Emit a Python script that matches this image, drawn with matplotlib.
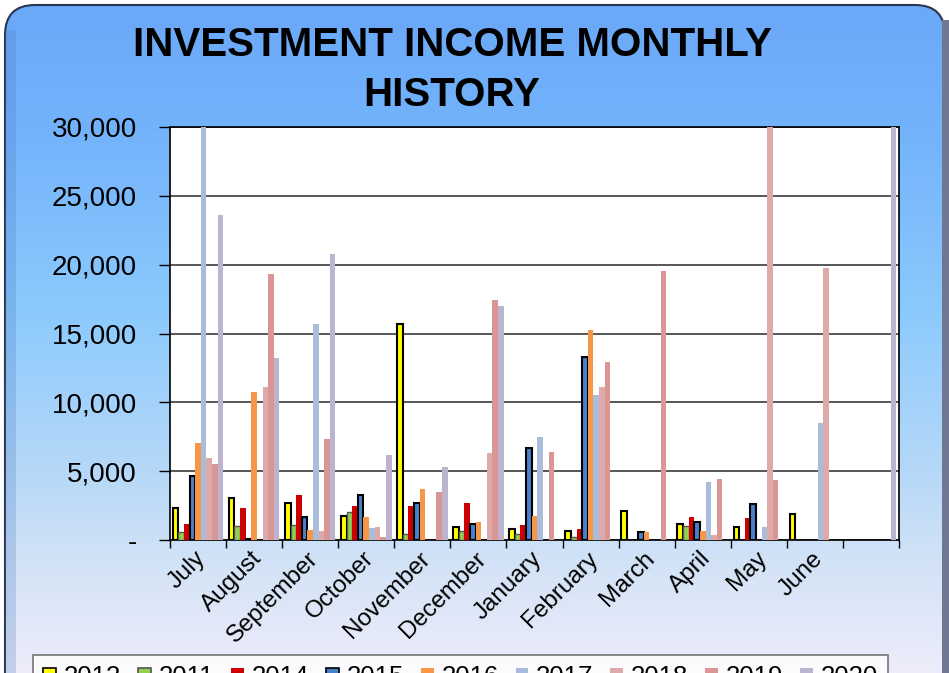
import numpy as np
import matplotlib
matplotlib.use("Agg")
import matplotlib.pyplot as plt
from matplotlib.patches import FancyBboxPatch, Patch, Rectangle
from matplotlib.colors import LinearSegmentedColormap
from matplotlib.ticker import FuncFormatter

plt.rcParams['font.family'] = ['Liberation Sans', 'DejaVu Sans']

# data (values above 30,000 are clipped in the original)
months = ["July", "August", "September", "October", "November", "December",
          "January", "February", "March", "April", "May", "June", ""]
years = ["2012", "2011", "2014", "2015", "2016", "2017", "2018", "2019", "2020"]

y2012 = [2300, 3050, 2710, 1770, 15660, 920, 800, 630, 2100, 1140, 970, 1860, 0]
y2011 = [600, 1040, 1065, 2010, 440, 650, 440, 240, 0, 1040, 0, 0, 0]
y2014 = [1160, 2300, 3270, 2490, 2490, 2710, 1090, 820, -100, 1690, 1620, 0, 0]
y2015 = [4670, 70, 1690, 3270, 2660, 1160, 6680, 13290, 580, 1330, 2590, 0, 0]
y2016 = [7020, 10770, 730, 1690, 3730, 1330, 1770, 15270, 600, 680, 0, 0, 0]
y2017 = [33000, 0, 15660, 870, 0, 30, 7500, 10550, 0, 4240, 970, 8520, 0]
y2018 = [5950, 11110, 680, 940, -60, 6340, 0, 11130, 0, 390, 33000, 19770, 0]
y2019 = [5540, 19340, 7360, 190, 3480, 17400, 6360, 12950, 19530, 4450, 4380, 0, 0]
y2020 = [23640, 13240, 20810, 6170, 5280, 17010, 0, 0, 0, 0, 0, 0, 33000]

series = [y2012, y2011, y2014, y2015, y2016, y2017, y2018, y2019, y2020]
colors = ["#FFFF00", "#92D050", "#CC0000", "#4A7FCC", "#F79646",
          "#A9BCDB", "#DDA9A9", "#D99694", "#BCB3CE"]
edges = ["black", "#555555", "none", "black", "none", "none", "none", "none", "none"]
lws = [1.5, 1.0, 0, 1.5, 0, 0, 0, 0, 0]

W, H = 949, 673
fig = plt.figure(figsize=(W / 100, H / 100), dpi=100, facecolor="white")

# background panel with vertical gradient
bg = fig.add_axes([0, 0, 1, 1], zorder=-10)
bg.set_xlim(0, W)
bg.set_ylim(H, 0)
bg.axis("off")
cmap = LinearSegmentedColormap.from_list("bgc", [
    (0.0, "#6aa8f8"), (0.2, "#74b4fb"), (0.45, "#8ccafd"),
    (0.68, "#b6d8f8"), (0.8, "#d0e2f6"), (1.0, "#f3eefb")])
grad = np.linspace(0, 1, 256).reshape(-1, 1)
im = bg.imshow(grad, cmap=cmap, extent=[5, 945, H + 20, 5], aspect="auto")
panel = FancyBboxPatch((5, 5), 940, H + 40, boxstyle="round,pad=0,rounding_size=30",
                       fc="none", ec="#2a3550", lw=1.5)
bg.add_patch(panel)
im.set_clip_path(panel)
strip = Rectangle((5, 30), 11, H, fc="#4a78c0", alpha=0.25, lw=0)
bg.add_patch(strip)
strip.set_clip_path(panel)
bg.add_patch(Rectangle((942, 20), 7, H, fc="#6f7890", lw=0))

fig.text(452 / W, 1 - 70 / H, "INVESTMENT INCOME MONTHLY\nHISTORY",
         ha="center", va="center", fontsize=29, fontweight="bold",
         linespacing=1.37)

ax = fig.add_axes([170 / W, 1 - 540 / H, 729 / W, 413 / H])
ax.set_facecolor("white")
x = np.arange(len(months))
w = 0.1
for i, (vals, c, ec, lw) in enumerate(zip(series, colors, edges, lws)):
    h = np.array([np.nan if v == 0 else v for v in vals], dtype=float)
    ax.bar(x + (i - 4) * w, h, width=w, color=c, edgecolor=ec, linewidth=lw,
           zorder=3)

ax.set_xlim(-0.5, len(months) - 0.5)
ax.set_ylim(0, 30000)
ax.set_yticks(np.arange(0, 30001, 5000))
ax.yaxis.set_major_formatter(FuncFormatter(lambda v, p: "-" if v == 0 else f"{v:,.0f}"))
ax.tick_params(axis="y", labelsize=20, length=8, width=1, pad=16, direction="out")
ax.grid(axis="y", color="#4a4a4a", lw=1.3, zorder=1)

ax.set_xticks(np.arange(-0.5, len(months), 1))
ax.set_xticklabels([])
ax.set_xticks(x + 0.08, minor=True)
ax.set_xticklabels(months, minor=True, rotation=45, ha="right", va="center",
                   rotation_mode="anchor", fontsize=17.5)
ax.tick_params(axis="x", which="major", length=6, width=1, direction="out")
ax.tick_params(axis="x", which="minor", length=0, pad=11)
for s in ax.spines.values():
    s.set_color("black")
    s.set_linewidth(1.2)

handles = [Patch(facecolor=c, edgecolor=("black" if ec == "none" else ec) if i in (0, 1, 3) else c,
                 linewidth=1.2 if i in (0, 1, 3) else 0, label=y)
           for i, (c, ec, y) in enumerate(zip(colors, edges, years))]
leg = fig.legend(handles=handles, loc="upper left", bbox_to_anchor=(33 / W, 1 - 655 / H),
                 ncol=9, fontsize=18.5, frameon=True, fancybox=False,
                 handlelength=0.5, handleheight=0.5, handletextpad=0.3,
                 columnspacing=0.66, borderpad=0.4, borderaxespad=0)
leg.get_frame().set_edgecolor("#555555")
leg.get_frame().set_linewidth(1.2)
leg.get_frame().set_facecolor("white")

fig.savefig("out.png", dpi=100, facecolor="white")
